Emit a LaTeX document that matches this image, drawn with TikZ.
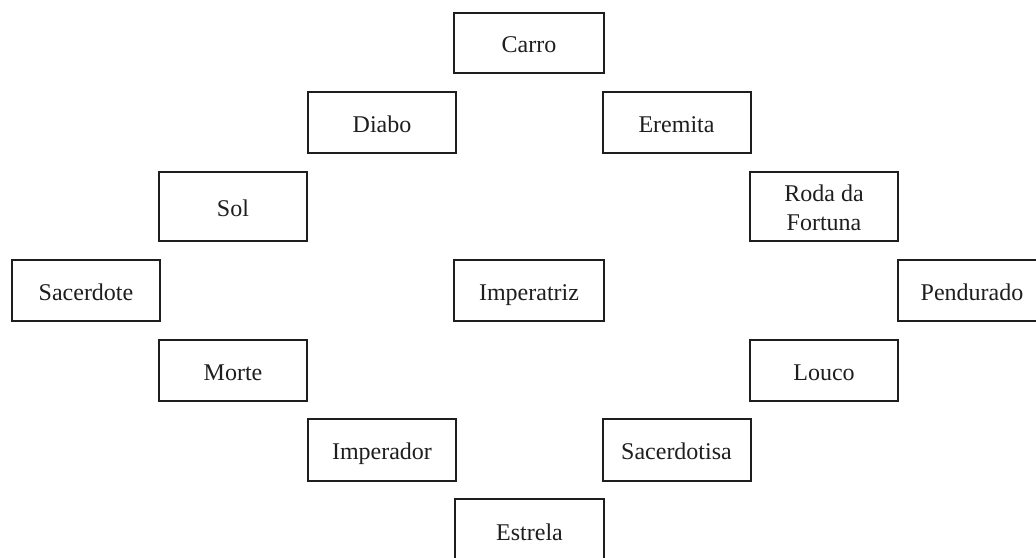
\documentclass[tikz,border=0pt]{standalone}
\usepackage{fontspec}
\setmainfont{Liberation Serif}
\definecolor{ink}{HTML}{1E1E1E}
\tikzset{
  card/.style={draw=ink, line width=2pt, fill=white, minimum width=148pt, minimum height=61pt,
    inner sep=0pt, font=\fontsize{24}{29.5}\selectfont, text=ink, align=center,
    text height=20pt, text depth=1pt}
}
\begin{document}
\begin{tikzpicture}[x=1pt,y=-1pt]
\useasboundingbox (0,0) rectangle (1036,557);
\clip (0,0) rectangle (1036,557);
\fill[white] (0,0) rectangle (1036,557);
\node[card, minimum width=150pt, minimum height=60pt] (carro) at (529,43) {Carro};
\node[card] (diabo) at (382,122.5) {Diabo};
\node[card] (eremita) at (676.5,122.5) {Eremita};
\node[card, minimum height=69pt] (sol) at (233,206.5) {Sol};
\node[card, minimum height=69pt, text height=49.5pt] (roda) at (824,206.5) {Roda da\\Fortuna};
\node[card] (sacerdote) at (86,290.5) {Sacerdote};
\node[card, minimum width=150pt] (imperatriz) at (529,290.5) {Imperatriz};
\node[card] (pendurado) at (972,290.5) {Pendurado};
\node[card] (morte) at (233,370.5) {Morte};
\node[card] (louco) at (824,370.5) {Louco};
\node[card, minimum height=62pt] (imperador) at (382,450) {Imperador};
\node[card, minimum height=62pt] (sacerdotisa) at (676.5,450) {Sacerdotisa};
\node[card, minimum width=149pt, minimum height=64pt] (estrela) at (529.5,531) {Estrela};
\end{tikzpicture}
\end{document}
